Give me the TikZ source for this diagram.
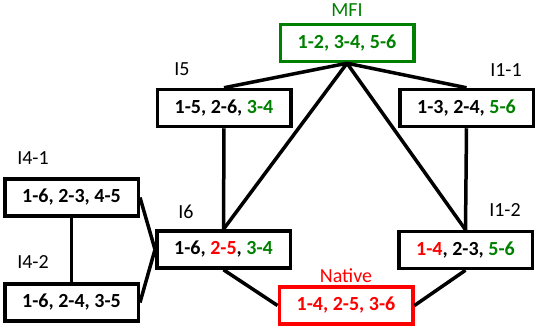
\documentclass[tikz,border=0pt]{standalone}
\usepackage{fontspec}
\setmainfont{Carlito}
\definecolor{mgreen}{RGB}{0,128,0}
\definecolor{mred}{RGB}{255,0,0}
\begin{document}
\begin{tikzpicture}[x=1pt,y=-1pt,
  box/.style={draw=black,line width=3.5pt,minimum width=133.5pt,minimum height=37pt,inner sep=0pt,font=\fontsize{20}{24}\selectfont\bfseries},
  lbl/.style={font=\fontsize{20}{24}\selectfont,inner sep=0pt},
  conn/.style={line width=3.5pt}]
\useasboundingbox (0,0) rectangle (536,330);
\node[box,draw=mgreen,text=mgreen] (mfi) at (347,43) {1-2, 3-4, 5-6};
\node[box] (i5) at (224,108) {1-5, 2-6, \textcolor{mgreen}{3-4}};
\node[box] (i11) at (466.5,108) {1-3, 2-4, \textcolor{mgreen}{5-6}};
\node[box] (i41) at (71.5,197.5) {1-6, 2-3, 4-5};
\node[box] (i42) at (71.5,302.5) {1-6, 2-4, 3-5};
\node[box] (i6) at (223.5,249.5) {1-6, \textcolor{mred}{2-5}, \textcolor{mgreen}{3-4}};
\node[box] (i12) at (465.5,250) {\textcolor{mred}{1-4}, 2-3, \textcolor{mgreen}{5-6}};
\node[box,draw=mred,text=mred] (nat) at (346,305.5) {1-4, 2-5, 3-6};
\node[lbl,text=mgreen] (lmfi) at (347,10) {MFI};
\node[lbl] (li5) at (182,69) {I5};
\node[lbl] (li11) at (506,70) {I1-1};
\node[lbl] (li41) at (33,158) {I4-1};
\node[lbl] (li42) at (33,262) {I4-2};
\node[lbl] (li6) at (186,212) {I6};
\node[lbl] (li12) at (505,210) {I1-2};
\node[lbl,text=mred] (lnat) at (346,276) {Native};
\draw[conn] (mfi.south) -- (i5.north);
\draw[conn] (mfi.south) -- (i11.north);
\draw[conn] (mfi.south) -- (i6.north);
\draw[conn] (mfi.south) -- (i12.north);
\draw[conn] (i5.south) -- (i6.north);
\draw[conn] (i11.south) -- (i12.north);
\draw[conn] (i41.east) -- (i6.west);
\draw[conn] (i42.east) -- (i6.west);
\draw[conn] (i41.south) -- (i42.north);
\draw[conn] (i6.south) -- (nat.west);
\draw[conn] (i12.south) -- (nat.east);
\end{tikzpicture}
\end{document}
